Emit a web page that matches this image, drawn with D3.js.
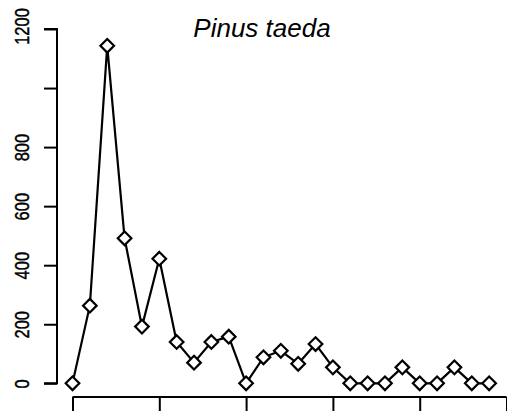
<!DOCTYPE html>
<html>
<head>
<meta charset="utf-8">
<script src="https://cdn.jsdelivr.net/npm/d3@7/dist/d3.min.js"></script>
<style>
  html, body { margin: 0; padding: 0; background: #fff; }
  svg { display: block; }
  text { font-family: "Liberation Sans", Arial, Helvetica, sans-serif; fill: #000; }
</style>
</head>
<body>
<div id="chart"></div>
<script>
// Yearly counts for Pinus taeda
const counts = [0, 263, 1143, 491, 192, 422, 140, 70, 140, 158, 0, 88, 110, 66, 133, 54, 0, 0, 0, 54, 0, 0, 54, 0, 0];
const yTicks = [0, 200, 400, 600, 800, 1000, 1200];
const yTickLabels = ["0", "200", "400", "600", "800", "", "1200"];
const xTicks = [0, 5, 10, 15, 20, 25];
const title = "Pinus taeda";

const W = 507, H = 417;
const svg = d3.select("#chart").append("svg")
  .attr("width", W).attr("height", H);

const x = d3.scaleLinear().domain([0, 25]).range([72.5, 506.5]);
const y = d3.scaleLinear().domain([0, 1200]).range([383.3, 29]);

// Left axis with rotated labels
const yAxis = svg.append("g")
  .attr("transform", "translate(57,0)")
  .call(d3.axisLeft(y).tickValues(yTicks).tickSize(13).tickFormat((d, i) => yTickLabels[i]));
yAxis.select(".domain").attr("d", `M-13,${y(0)}H0V${y(1200)}H-13`).attr("stroke-width", 2).attr("stroke", "#000");
yAxis.selectAll(".tick line").attr("stroke-width", 2).attr("stroke", "#000");
yAxis.selectAll(".tick text")
  .attr("font-size", 16.5)
  .attr("text-anchor", "middle")
  .attr("x", null).attr("dy", null)
  .attr("stroke", "#000").attr("stroke-width", 0.35)
  .attr("transform", d => `translate(-28.5,${d === 1200 ? -3 : 0}) rotate(-90) scale(1,1.27)`);

// Bottom axis, ticks only
const xAxis = svg.append("g")
  .attr("transform", "translate(0,397)")
  .call(d3.axisBottom(x).tickValues(xTicks).tickSize(14).tickFormat(""));
xAxis.select(".domain").attr("d", `M${x(0)},0H${x(25)}`).attr("stroke-width", 2).attr("stroke", "#000");
xAxis.selectAll(".tick line").attr("stroke-width", 2).attr("stroke", "#000");

// Connecting line
const line = d3.line().x((d, i) => x(i)).y(d => y(d));
svg.append("path")
  .datum(counts)
  .attr("d", line)
  .attr("fill", "none")
  .attr("stroke", "#000")
  .attr("stroke-width", 2.2)
  .attr("stroke-linejoin", "miter");

// Diamond markers
const r = 6.8;
svg.append("g").selectAll("path")
  .data(counts)
  .join("path")
  .attr("d", (d, i) => {
    const cx = x(i), cy = y(d);
    return `M${cx},${cy - r}L${cx + r},${cy}L${cx},${cy + r}L${cx - r},${cy}Z`;
  })
  .attr("fill", "#fff")
  .attr("stroke", "#000")
  .attr("stroke-width", 2.2);

// Title
svg.append("text")
  .attr("x", 262).attr("y", 37)
  .attr("text-anchor", "middle")
  .attr("font-size", 26)
  .attr("font-style", "italic")
  .text(title);
</script>
</body>
</html>
